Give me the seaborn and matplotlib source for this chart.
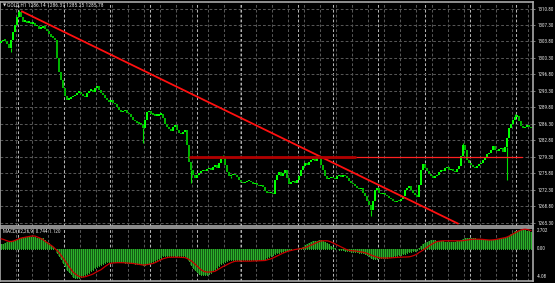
import numpy as np
import pandas as pd
import matplotlib
matplotlib.use("Agg")
import matplotlib.pyplot as plt
from matplotlib import font_manager
import seaborn as sns

# ---------------- data ----------------
closes = [1303.8,1304.2,1304.0,1303.3,1302.5,1304.2,1305.9,1307.2,1308.9,1310.0,
 1309.1,1308.0,1308.2,1307.8,1308.0,1307.6,1307.8,1307.0,1307.0,1306.5,
 1306.7,1307.0,1306.5,1306.1,1305.3,1304.8,1304.6,1304.2,1300.3,1297.4,
 1295.6,1293.9,1292.2,1291.4,1291.6,1292.0,1292.2,1292.5,1292.9,1293.1,
 1292.7,1292.2,1292.0,1292.9,1293.3,1293.5,1293.1,1293.9,1294.4,1293.5,
 1292.9,1292.5,1291.8,1291.4,1291.0,1291.4,1290.7,1290.5,1289.9,1289.3,
 1288.8,1289.0,1289.3,1288.6,1288.4,1287.8,1287.1,1286.9,1286.5,1286.3,
 1286.1,1285.4,1287.1,1288.8,1289.0,1288.4,1288.2,1288.0,1288.0,1288.2,
 1288.4,1287.5,1286.3,1285.6,1285.2,1284.8,1285.6,1286.1,1285.0,1284.3,
 1284.1,1284.6,1285.0,1281.8,1278.2,1276.4,1275.4,1274.7,1275.4,1275.8,
 1276.2,1276.4,1276.2,1276.7,1276.9,1276.4,1277.1,1277.5,1276.9,1277.9,
 1278.8,1279.2,1277.5,1276.0,1275.2,1275.4,1275.6,1275.4,1274.9,1274.3,
 1273.9,1273.7,1273.9,1274.1,1274.1,1273.9,1273.5,1273.7,1273.2,1273.0,
 1273.2,1272.8,1272.0,1271.7,1271.5,1271.7,1271.3,1274.3,1275.4,1276.0,
 1275.2,1275.8,1276.4,1274.7,1273.5,1273.9,1274.1,1273.7,1274.3,1275.2,
 1276.4,1277.3,1277.9,1277.5,1278.2,1278.6,1278.8,1278.4,1279.0,1279.4,
 1277.5,1276.4,1275.2,1274.5,1274.7,1274.9,1274.7,1274.5,1275.2,1275.4,
 1274.9,1275.4,1275.2,1274.7,1274.1,1273.7,1273.5,1273.0,1272.6,1272.4,
 1272.6,1271.7,1270.9,1270.0,1269.0,1267.9,1270.0,1272.2,1272.6,1271.7,
 1271.3,1271.5,1271.1,1270.9,1270.5,1270.3,1269.8,1269.6,1270.0,1269.8,
 1270.3,1270.9,1272.2,1272.6,1273.0,1272.2,1271.7,1271.1,1270.7,1273.2,
 1276.4,1277.7,1276.9,1276.2,1275.6,1275.2,1274.7,1275.2,1275.4,1276.0,
 1276.4,1276.2,1276.9,1277.1,1276.4,1276.7,1276.2,1276.0,1276.7,1277.3,
 1279.4,1281.8,1280.7,1278.6,1277.9,1277.5,1277.1,1276.9,1277.3,1277.7,
 1277.9,1278.6,1279.2,1279.9,1280.1,1280.7,1281.6,1280.7,1280.5,1280.9,
 1281.1,1280.3,1281.3,1283.3,1285.4,1286.3,1287.1,1287.8,1288.0,1286.9,
 1285.8,1285.4,1285.6,1286.1,1285.6,1285.4]
first_open = 1303.4
wick_lows = {5: 1301.6, 71: 1282.2, 95: 1273.7, 115: 1274.7, 185: 1266.8, 253: 1274.3}
wick_highs = {9: 1310.5, 111: 1279.6, 231: 1282.3, 257: 1288.4}

macd_main = [0.55,0.65,0.75,0.8,0.85,0.95,1.0,1.1,1.25,1.4,
 1.42,1.44,1.45,1.47,1.5,1.52,1.55,1.48,1.4,1.34,
 1.32,1.3,1.1,0.9,0.7,0.5,0.2,0.0,-0.6,-0.95,
 -1.3,-1.8,-2.25,-2.7,-3.05,-3.3,-3.6,-3.7,-3.8,-3.75,
 -3.65,-3.55,-3.4,-3.25,-3.1,-2.9,-2.7,-2.5,-2.35,-2.2,
 -2.05,-1.95,-1.8,-1.75,-1.7,-1.7,-1.65,-1.7,-1.7,-1.7,
 -1.72,-1.75,-1.78,-1.8,-1.85,-1.88,-1.9,-1.92,-1.95,-1.98,
 -2.0,-2.05,-2.1,-2.0,-1.95,-1.85,-1.75,-1.6,-1.45,-1.3,
 -1.15,-1.0,-0.9,-0.92,-0.95,-0.97,-1.0,-1.0,-1.0,-1.0,
 -1.0,-0.95,-0.9,-1.2,-1.6,-2.1,-2.45,-2.8,-3.0,-3.2,
 -3.35,-3.4,-3.4,-3.4,-3.25,-3.1,-2.9,-2.7,-2.5,-2.25,
 -2.0,-1.85,-1.7,-1.55,-1.5,-1.45,-1.42,-1.4,-1.4,-1.4,
 -1.4,-1.4,-1.4,-1.42,-1.44,-1.46,-1.48,-1.5,-1.5,-1.48,
 -1.46,-1.43,-1.4,-1.25,-1.1,-0.95,-0.85,-0.7,-0.6,-0.5,
 -0.42,-0.38,-0.3,-0.25,-0.18,-0.15,-0.1,-0.07,-0.02,0.03,
 0.08,0.2,0.4,0.55,0.72,0.85,0.92,0.98,1.02,1.05,
 1.05,1.0,0.9,0.75,0.55,0.35,0.2,0.05,-0.05,-0.12,
 -0.18,-0.24,-0.3,-0.33,-0.36,-0.4,-0.42,-0.45,-0.48,-0.5,
 -0.55,-0.6,-0.68,-0.8,-0.95,-1.15,-1.3,-1.35,-1.3,-1.22,
 -1.2,-1.18,-1.16,-1.15,-1.1,-1.05,-1.02,-1.0,-0.95,-0.88,
 -0.82,-0.75,-0.65,-0.55,-0.48,-0.42,-0.35,-0.28,-0.2,0.05,
 0.3,0.55,0.72,0.9,1.0,1.05,1.1,1.05,1.0,0.96,
 0.94,0.92,0.9,0.9,0.9,0.9,0.9,0.9,0.92,0.95,
 1.05,1.25,1.32,1.35,1.35,1.35,1.33,1.3,1.25,1.2,
 1.18,1.15,1.12,1.1,1.1,1.1,1.12,1.15,1.18,1.25,
 1.3,1.35,1.4,1.5,1.65,1.85,2.05,2.2,2.3,2.38,
 2.43,2.45,2.4,2.3,2.2,2.1]

macd_signal = [1.25,1.2,1.1,1.0,0.92,0.9,0.95,1.05,1.15,1.28,
 1.35,1.4,1.45,1.5,1.55,1.6,1.62,1.6,1.5,1.4,
 1.28,1.15,0.95,0.78,0.6,0.42,0.25,0.0,-0.25,-0.5,
 -0.85,-1.2,-1.55,-1.9,-2.3,-2.65,-3.0,-3.2,-3.4,-3.55,
 -3.62,-3.65,-3.6,-3.52,-3.45,-3.35,-3.25,-3.1,-2.95,-2.82,
 -2.7,-2.5,-2.3,-2.12,-1.95,-1.88,-1.84,-1.82,-1.8,-1.8,
 -1.8,-1.8,-1.82,-1.84,-1.86,-1.88,-1.9,-1.94,-1.98,-2.02,
 -2.06,-2.1,-2.08,-2.05,-2.0,-1.95,-1.9,-1.8,-1.68,-1.55,
 -1.42,-1.3,-1.22,-1.15,-1.1,-1.1,-1.1,-1.1,-1.1,-1.1,
 -1.12,-1.14,-1.15,-1.25,-1.4,-1.55,-1.75,-1.98,-2.2,-2.45,
 -2.7,-2.85,-2.95,-3.0,-3.0,-2.98,-2.95,-2.9,-2.75,-2.6,
 -2.45,-2.3,-2.2,-2.05,-1.92,-1.8,-1.7,-1.62,-1.6,-1.6,
 -1.6,-1.6,-1.6,-1.6,-1.6,-1.6,-1.58,-1.58,-1.57,-1.56,
 -1.55,-1.55,-1.52,-1.45,-1.38,-1.3,-1.2,-1.08,-0.95,-0.82,
 -0.7,-0.58,-0.48,-0.38,-0.3,-0.24,-0.18,-0.12,-0.08,-0.04,
 0.0,0.05,0.12,0.22,0.35,0.45,0.55,0.68,0.8,0.9,
 0.98,1.0,1.0,1.0,0.95,0.85,0.72,0.6,0.48,0.35,
 0.22,0.1,-0.02,-0.15,-0.22,-0.26,-0.28,-0.3,-0.34,-0.38,
 -0.42,-0.46,-0.52,-0.6,-0.72,-0.82,-0.92,-1.0,-1.1,-1.16,
 -1.2,-1.2,-1.2,-1.2,-1.2,-1.18,-1.16,-1.14,-1.12,-1.1,
 -1.1,-1.08,-1.08,-1.06,-1.05,-1.0,-0.92,-0.82,-0.7,-0.5,
 -0.35,-0.2,0.0,0.15,0.35,0.5,0.65,0.8,0.9,0.95,
 0.98,1.0,1.0,1.0,1.0,1.0,1.0,1.0,1.0,1.0,
 1.0,1.02,1.06,1.1,1.14,1.17,1.2,1.2,1.2,1.2,
 1.2,1.18,1.15,1.12,1.1,1.1,1.12,1.15,1.2,1.25,
 1.3,1.35,1.4,1.48,1.6,1.72,1.88,2.02,2.15,2.28,
 2.38,2.45,2.48,2.45,2.4,2.3]

price_ticks = [1265.30, 1268.80, 1272.30, 1275.80, 1279.30, 1282.80, 1286.30,
               1289.80, 1293.30, 1296.80, 1300.30, 1303.80, 1307.30, 1310.80]
macd_labels = ["2.702", "0.00", "-4.08"]
trend_bars = [10.4, 228.5]
trend_prices = [1310.2, 1265.1]
level_price = 1279.3
level_thick_bars = [94.5, 177.0]
level_thin_bars = [94.5, 260.5]
header = "GOLD,H1 1286.14 1286.37 1285.25 1285.78"
macd_title = "MACD(12,26,9) 0.744 1.120"

assert len(closes) == len(macd_main) == len(macd_signal) == 266

# ---------------- fonts ----------------
sns.set_theme(style="dark", rc={"axes.facecolor": "black", "figure.facecolor": "black"})
available = {f.name for f in font_manager.fontManager.ttflist}
narrow = "DejaVu Sans"
for cand in ["Liberation Sans Narrow", "Roboto Condensed", "DejaVu Sans Condensed",
             "Open Sans Condensed", "Noto Sans Condensed", "Roboto"]:
    if cand in available:
        narrow = cand
        break
plt.rcParams["font.family"] = [narrow, "DejaVu Sans"]
plt.rcParams["lines.scale_dashes"] = False

W, H = 555, 283
fig = plt.figure(figsize=(W / 100, H / 100), dpi=100)
fig.patch.set_facecolor("black")
renderer = fig.canvas.get_renderer()


def fit_size(text, target_px, base=5.0, cap=4.6):
    t = fig.text(0, 0, text, fontsize=base)
    w = t.get_window_extent(renderer=renderer).width
    t.remove()
    return min(cap, base * target_px / w)


FS_TICK = fit_size("1310.80", 16.5)
FS_HEAD = fit_size(header, 96)
FS_MACD = fit_size(macd_title, 58)


def px_box(x0, y0, x1, y1):
    return [x0 / W, 1 - y1 / H, (x1 - x0) / W, (y1 - y0) / H]


ax = fig.add_axes(px_box(0, 1.5, 533, 225.5))
ax2 = fig.add_axes(px_box(0, 227.5, 533, 280.5))
XLIM = (-0.5, 266.0)

n = len(closes)
idx = np.arange(n)
c = np.array(closes)
o = np.concatenate([[first_open], c[:-1]])
df = pd.DataFrame({"bar": idx, "open": o, "close": c,
                   "macd": macd_main, "signal": macd_signal})

GRID = "#555555"
BRIGHT = "#b4b4b4"
dash = (0, (2, 1.5))
grid_x = np.arange(7.5, 266, 8)
bright_x = [8.5, 31.5, 54.5, 74.5, 98, 120, 148.5, 166, 188.5, 212, 234.5, 257.5]

for a in (ax, ax2):
    a.set_facecolor("black")
    for gx in grid_x:
        a.axvline(gx, color=GRID, lw=0.75, ls=dash, zorder=0)
    for gx in bright_x:
        a.axvline(gx, color=BRIGHT, lw=0.75, ls=dash, zorder=0)
    for s in a.spines.values():
        s.set_color("#a8a8a8")
        s.set_linewidth(1.2)
        s.set_visible(True)
    a.grid(False)

for py in price_ticks:
    ax.axhline(py, color=GRID, lw=0.75, ls=dash, zorder=0)

# candles
up = df["close"] >= df["open"]
body_lo = np.minimum(df["open"], df["close"])
body_h = np.maximum(np.abs(df["close"] - df["open"]), 0.3)
ax.bar(df["bar"], body_h, bottom=body_lo, width=0.9,
       color=np.where(up, "#00ff00", "#00b400"), linewidth=0, zorder=3)
for i, lo in wick_lows.items():
    ax.vlines(i, lo, min(o[i], c[i]), color="#00e000", lw=0.8, zorder=3)
for i, hi in wick_highs.items():
    ax.vlines(i, max(o[i], c[i]), hi, color="#00e000", lw=0.8, zorder=3)

# trend lines
sns.lineplot(x=trend_bars, y=trend_prices, ax=ax, color="#ff1010", lw=1.3, zorder=4)
sns.lineplot(x=level_thin_bars, y=[level_price, level_price], ax=ax,
             color="#ff2020", lw=0.9, zorder=4)
sns.lineplot(x=level_thick_bars, y=[level_price, level_price], ax=ax,
             color="#b00000", lw=2.0, zorder=4)

ax.set_ylim(1264.70, 1312.29)
ax.set_xlim(*XLIM)
ax.yaxis.tick_right()
ax.set_yticks(price_ticks)
ax.set_yticklabels([f"{v:.2f}" for v in price_ticks])
ax.tick_params(axis="y", colors="#909090", labelcolor="#e6e6e6", labelsize=FS_TICK,
               length=1.5, pad=1.5, width=0.6)
ax.set_xticks([])
ax.set_xlabel("")
ax.set_ylabel("")

# MACD panel: histogram (dark fill + bright 1-px column), signal line via seaborn
ax2.vlines(df["bar"], 0, df["macd"], colors="#145c14", lw=1.44,
           antialiased=False, zorder=2)
ax2.vlines(df["bar"], 0, df["macd"], colors="#2bb02b", lw=0.72,
           antialiased=False, zorder=2)
sns.lineplot(data=df, x="bar", y="signal", ax=ax2, color="#c80000", lw=0.9, zorder=3)
ax2.set_ylim(-4.08, 2.702)
ax2.set_xlim(*XLIM)
ax2.set_xticks([])
ax2.set_yticks([])
ax2.set_xlabel("")
ax2.set_ylabel("")

label_px = [230.5, 248.5, 276.5]
for lab, py in zip(macd_labels, label_px):
    fig.text(537 / W, 1 - py / H, lab, color="#e6e6e6", fontsize=FS_TICK,
             ha="left", va="center")

fig.text(2.5 / W, 1 - 5.5 / H, "\u25BC", color="#e0e0e0", fontsize=3,
         ha="left", va="center", family=["DejaVu Sans"])
fig.text(7 / W, 1 - 5.5 / H, header, color="#e0e0e0", fontsize=FS_HEAD,
         ha="left", va="center")
fig.text(3 / W, 1 - 231 / H, macd_title, color="#e0e0e0", fontsize=FS_MACD,
         ha="left", va="center")

fig.savefig("out.png", dpi=100, facecolor="black")
